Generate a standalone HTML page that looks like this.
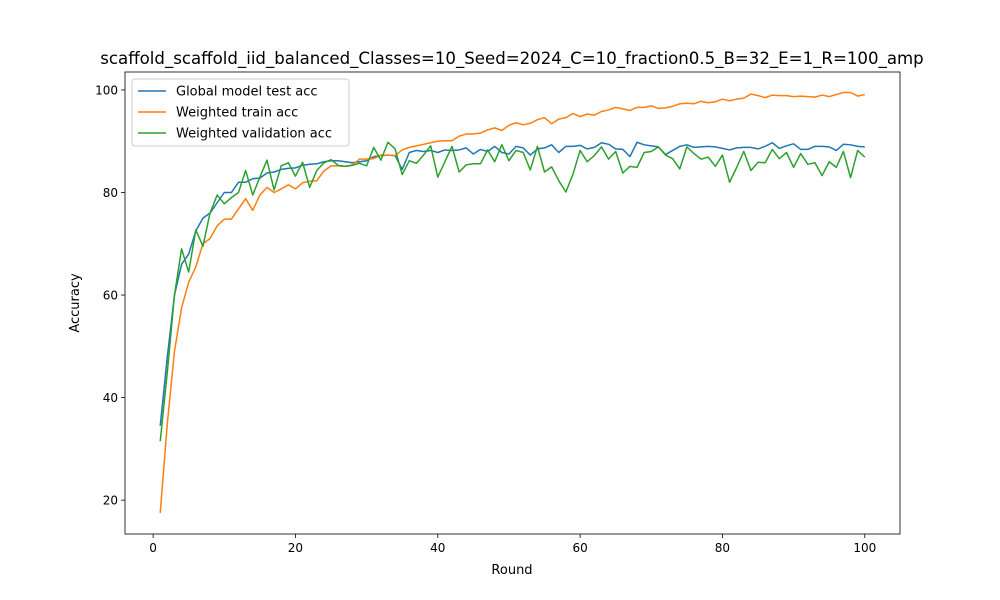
<!DOCTYPE html>
<html><head><meta charset="utf-8"><style>body{margin:0;background:#fff}svg{display:block;font-family:"DejaVu Sans","Liberation Sans",sans-serif}</style></head>
<body>
<svg id="chart" width="1000" height="600">
<rect width="1000" height="600" fill="#fff"/>
<text x="512" y="64" font-size="16.6" text-anchor="middle">scaffold_scaffold_iid_balanced_Classes=10_Seed=2024_C=10_fraction0.5_B=32_E=1_R=100_amp</text>
<g id="plot"></g>
<text x="512" y="574" font-size="13" text-anchor="middle">Round</text>
<text x="0" y="0" font-size="13" text-anchor="middle" transform="translate(79,303) rotate(-90)">Accuracy</text>
</svg>
<script>
const rounds = Array.from({length:100},(_,i)=>i+1);
const globalAcc = [34.5,48,60,66,68,72.5,75,76,78,80,80,82,82,82.7,82.8,83.8,84,84.5,84.7,84.8,85.3,85.5,85.6,86,86.2,86.2,86,85.8,86,86.2,87,87.2,87.3,87.2,84.5,87.8,88.2,88,88.2,87.8,88.3,88.2,88.3,88.7,87.5,88.4,88,89,87.8,87.5,89,88.7,87.3,88.5,88.7,89.3,87.8,89,89,89.2,88.5,88.8,89.7,89.4,88.5,88.4,87,89.8,89.3,89.1,88.9,87.4,88.2,89,89.3,88.8,88.9,89,88.9,88.6,88.3,88.7,88.8,88.8,88.5,89,89.7,88.6,89.1,89.5,88.4,88.4,89,89,88.9,88.2,89.4,89.3,89,88.9];
const trainAcc = [17.5,35,49,57.5,62.5,65.5,70,71,73.5,74.8,74.8,76.8,78.8,76.5,79.5,81,80,80.7,81.5,80.7,81.9,82.2,82.3,84.2,85.2,85.2,85.1,85.4,86.5,86.5,86.6,87.3,87.3,87.2,88.3,88.8,89.1,89.4,89.7,90,90.1,90.1,91,91.4,91.4,91.6,92.2,92.6,92.1,93.1,93.6,93.2,93.5,94.2,94.6,93.4,94.3,94.6,95.4,94.8,95.3,95.1,95.8,96.1,96.6,96.3,96,96.6,96.6,96.9,96.4,96.5,96.8,97.3,97.4,97.3,97.8,97.5,97.7,98.2,97.9,98.2,98.4,99.2,98.9,98.5,99,98.9,98.9,98.7,98.8,98.7,98.6,99,98.7,99.1,99.5,99.5,98.8,99.1];
const valAcc = [31.5,45,60,69,64.5,72.7,69.5,76,79.5,77.8,79,80,84.3,79.5,83,86.3,80.5,85.2,85.8,83.2,85.9,81,84.3,85.8,86.4,85.3,85.1,85.3,85.7,85.2,88.8,86.3,89.8,88.5,83.5,86.2,85.7,87.3,89.1,83,86,89,84,85.4,85.6,85.6,88.3,86,89.3,86.2,88.2,87.8,84.4,89,84,85,82.3,80.1,83.6,88.2,86,87.2,88.9,86.5,88,83.8,85.1,84.9,87.8,88,88.9,87.3,86.6,84.6,88.9,87.6,86.5,86.9,85.1,87.3,82,84.9,88,84.3,85.9,85.8,88.4,86.6,87.8,84.9,87.6,85.5,85.8,83.3,86,84.9,88,82.9,88.2,86.9];
const xTicks = [0,20,40,60,80,100];
const yTicks = [20,40,60,80,100];

const L=125,R=900,T=72,B=534;
const xmin=-3.95,xmax=104.95,ymin=13.4,ymax=103.5;
const sx=v=>L+(v-xmin)/(xmax-xmin)*(R-L);
const sy=v=>B-(v-ymin)/(ymax-ymin)*(B-T);
const NS='http://www.w3.org/2000/svg';
const g=document.getElementById('plot');
function mk(t,a){const e=document.createElementNS(NS,t);for(const k in a)e.setAttribute(k,a[k]);g.appendChild(e);return e;}

xTicks.forEach(v=>{
  const l=mk('line',{x1:sx(v),x2:sx(v),y1:B,y2:B+4,stroke:'#000','stroke-width':0.8});
  
  
  const t=mk('text',{x:sx(v),y:B+18,'font-size':12,'text-anchor':'middle'});t.textContent=v;
  
  
});
yTicks.forEach(v=>{
  const l=mk('line',{x1:L-4,x2:L,y1:sy(v),y2:sy(v),stroke:'#000','stroke-width':0.8});
  
  
  const t=mk('text',{x:L-7,y:sy(v)+4.5,'font-size':12,'text-anchor':'end'});t.textContent=v;
  
  
});
const series=[['global-test-line',globalAcc,'#1f77b4'],['train-line',trainAcc,'#ff7f0e'],['validation-line',valAcc,'#2ca02c']];
series.forEach(([n,d,c])=>{
  const p=mk('polyline',{points:d.map((v,i)=>sx(rounds[i])+','+sy(v)).join(' '),fill:'none',stroke:c,'stroke-width':1.5,'stroke-linejoin':'round'});
  
  
});
const fr=mk('rect',{x:L,y:T,width:R-L,height:B-T,fill:'none',stroke:'#000','stroke-width':0.8});


const lg=mk('rect',{x:132,y:79,width:217,height:67,fill:'#fff','fill-opacity':0.8,stroke:'#ccc',rx:3});


const labels=['Global model test acc','Weighted train acc','Weighted validation acc'];
series.forEach(([n,d,c],i)=>{
  const y=91+i*21;
  const l=mk('line',{x1:138,x2:166,y1:y,y2:y,stroke:c,'stroke-width':1.5});
  
  
  const t=mk('text',{x:176,y:y+4.5,'font-size':13});t.textContent=labels[i];
  
  
});
</script>
</body></html>
